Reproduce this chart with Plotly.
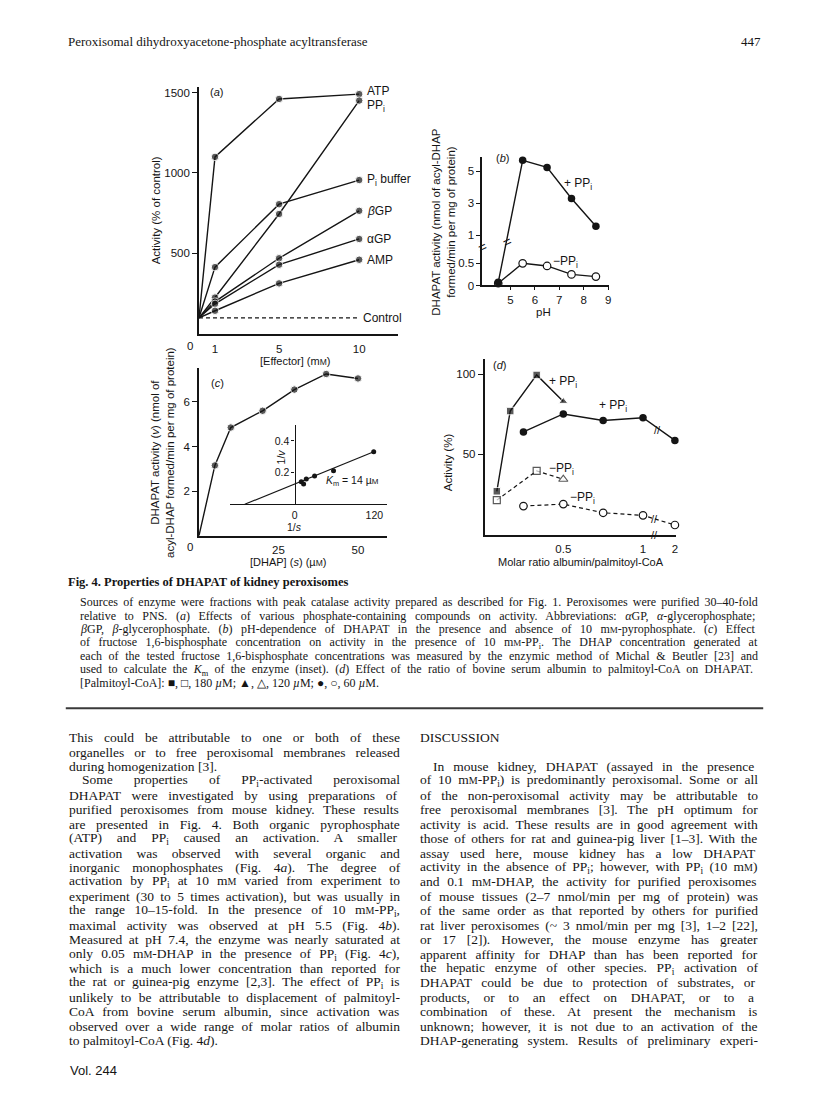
import re
import html
import plotly.graph_objects as go

# ---------------------------------------------------
# values

# (a) activity (% of control) against effector concentration (mM)
effector_mm = [0, 1, 5, 10]
act_atp = [100, 1100, 1460, 1490]
act_ppi = [100, 226, 745, 1450]
act_pi_buffer = [100, 415, 806, 956]
act_beta_gp = [100, 201, 470, 765]
act_alpha_gp = [100, 187, 430, 590]
act_amp = [100, 144, 314, 461]
control_mm = [0, 10]
control_pct = [100, 100]

# (b) pH dependence (nmol/min per mg)
ph = [4.5, 5.5, 6.5, 7.5, 8.5]
ph_plus_ppi = [0.07, 5.7, 5.25, 3.3, 1.55]
ph_minus_ppi = [0.05, 0.5, 0.44, 0.25, 0.2]

# (c) DHAP concentration (uM) and activity
dhap_um = [0, 5, 10, 20, 30, 40, 50]
dhap_v = [0, 3.15, 4.85, 5.6, 6.55, 7.25, 7.05]

# (c) inset, 1/v against 1/s
inv_s = [10, 13.5, 17.5, 30, 58.5, 119]
inv_v = [0.142, 0.128, 0.159, 0.179, 0.211, 0.332]
fit_inv_s = [-75, 120]
fit_inv_v = [0.0, 0.333]

# (d) molar ratio albumin/palmitoyl-CoA
ratio_180 = [0.083, 0.167, 0.333]
plus_180 = [27, 77, 99.5]
ratio_180_minus = [0.083, 0.333]
minus_180 = [21.5, 39.7]
ratio_120 = [0.5]
plus_120 = [83]
minus_120 = [34.5]
ratio_60 = [0.25, 0.5, 0.75, 1, 2]
plus_60 = [64, 75.2, 71.1, 72.8, 58.7]
minus_60 = [17.8, 19.0, 13.6, 12.0, 6.0]

# ---------------------------------------------------

INK = "#151515"
SANS = "Liberation Sans, Arial, sans-serif"
SERIF = "Liberation Serif, Times New Roman, serif"
W, H = 816, 1101


def px(x):
    return x / W


def py(y):
    return 1 - y / H


def small_caps(s, size):
    # mM / uM are printed with a small-capital M
    return re.sub(r"(m|µ)M", r'\1<span style="font-size:%spx">M</span>' % size, s)


def ph_axis(v):
    # broken y axis of panel (b): 0-0.5 stretched, 1-5 compressed
    return v * 44.6 if v < 0.8 else 50.7 + (v - 1) * 16.0


def ratio_axis(r):
    # broken x axis of panel (d): 1 -> 2 squeezed
    return r if r <= 1 else 1 + 0.2 * (r - 1)


# Times advance widths (1/1000 em), used to justify the text lines
TIMES = dict(zip("ABCDEFGHIJKLMNOPQRSTUVWXYZ",
                 [722, 667, 667, 722, 611, 556, 722, 722, 333, 389, 722, 611, 889,
                  722, 722, 556, 722, 667, 556, 611, 722, 722, 944, 722, 722, 611]))
TIMES.update(zip("abcdefghijklmnopqrstuvwxyz",
                 [444, 500, 444, 500, 444, 333, 500, 500, 278, 278, 500, 278, 778,
                  500, 500, 500, 500, 333, 389, 278, 500, 500, 722, 500, 500, 444]))
TIMES.update({c: 500 for c in "0123456789"})
TIMES.update({" ": 250, "(": 333, ")": 333, "[": 333, "]": 333, ",": 250, ".": 250,
              ";": 278, ":": 278, "-": 333, "–": 500, "/": 278, "&": 778, "~": 541,
              "%": 833, "α": 540, "β": 500, "µ": 500, "'": 333})


def natural_width(s, size, sc_size):
    total, scale = 0.0, 1.0
    for tok in re.split(r"(<[^>]+>)", s):
        if tok.startswith("<"):
            scale = 0.7 if tok == "<sub>" else (1.0 if tok == "</sub>" else scale)
            continue
        for ch in html.unescape(tok):
            total += TIMES.get(ch, 500) * scale
    total -= len(re.findall(r"[mµ]M", s)) * 889 * (1 - sc_size / size)
    return total * size / 1000


def justified(s, size, sc_size, width):
    plain = html.unescape(re.sub(r"<[^>]+>", "", s))
    gaps = plain.count(" ")
    extra = (width - natural_width(s, size, sc_size)) / max(gaps, 1)
    extra = max(extra, -1.0)
    return '<span style="word-spacing:%.2fpx">%s</span>' % (extra, small_caps(s, sc_size))


fig = go.Figure()

line_style = dict(color=INK, width=1.4)
dot = dict(color=INK, size=7.5)

# (a) -----
for ys in [act_atp, act_ppi, act_pi_buffer, act_beta_gp, act_alpha_gp, act_amp]:
    fig.add_trace(go.Scatter(
        x=effector_mm, y=ys, mode="lines+markers", line=line_style,
        marker=dict(color=INK, size=[0, 7.5, 7.5, 7.5]), xaxis="x", yaxis="y",
        cliponaxis=False))
fig.add_trace(go.Scatter(
    x=control_mm, y=control_pct, mode="lines",
    line=dict(color=INK, width=1.2, dash="4px,3px"), xaxis="x", yaxis="y"))

# (b) -----
fig.add_trace(go.Scatter(
    x=ph, y=[ph_axis(v) for v in ph_minus_ppi], mode="lines+markers", line=line_style,
    marker=dict(color="white", size=7.5, line=dict(color=INK, width=1.2)),
    xaxis="x2", yaxis="y2", cliponaxis=False))
fig.add_trace(go.Scatter(
    x=ph, y=[ph_axis(v) for v in ph_plus_ppi], mode="lines+markers", line=line_style,
    marker=dot, xaxis="x2", yaxis="y2", cliponaxis=False))

# (c) -----
fig.add_trace(go.Scatter(
    x=dhap_um, y=dhap_v, mode="lines+markers", line=line_style,
    marker=dict(color=INK, size=[0, 7.5, 7.5, 7.5, 7.5, 7.5, 7.5]), xaxis="x3", yaxis="y3",
    cliponaxis=False))
fig.add_trace(go.Scatter(
    x=fit_inv_s, y=fit_inv_v, mode="lines", line=dict(color=INK, width=1.2),
    xaxis="x4", yaxis="y4", cliponaxis=False))
fig.add_trace(go.Scatter(
    x=inv_s, y=inv_v, mode="markers", marker=dict(color=INK, size=5),
    xaxis="x4", yaxis="y4", cliponaxis=False))

# (d) -----
fig.add_trace(go.Scatter(
    x=[ratio_axis(r) for r in ratio_180_minus + ratio_120], y=minus_180 + minus_120,
    mode="lines+markers", line=dict(color=INK, width=1.2, dash="4px,3px"),
    marker=dict(color="white", size=[7, 7, 8], symbol=["square", "square", "triangle-up"],
                line=dict(color=INK, width=1.2)),
    xaxis="x5", yaxis="y5", cliponaxis=False))
fig.add_trace(go.Scatter(
    x=[ratio_axis(r) for r in ratio_60], y=minus_60,
    mode="lines+markers", line=dict(color=INK, width=1.2, dash="4px,3px"),
    marker=dict(color="white", size=7.5, line=dict(color=INK, width=1.2)),
    xaxis="x5", yaxis="y5", cliponaxis=False))
fig.add_trace(go.Scatter(
    x=[ratio_axis(r) for r in ratio_180 + ratio_120], y=plus_180 + plus_120,
    mode="lines+markers", line=line_style,
    marker=dict(color=INK, size=[7.5, 7.5, 7.5, 8], symbol=["square"] * 3 + ["triangle-up"]),
    xaxis="x5", yaxis="y5", cliponaxis=False))
fig.add_trace(go.Scatter(
    x=[ratio_axis(r) for r in ratio_60], y=plus_60, mode="lines+markers",
    line=line_style, marker=dot, xaxis="x5", yaxis="y5", cliponaxis=False))

# ---------------------------------------------------
# axes

ax = dict(showline=True, linecolor=INK, linewidth=1.6, ticks="outside", ticklen=5,
          tickwidth=1.2, tickcolor=INK, showgrid=False, zeroline=False,
          tickfont=dict(family=SANS, size=11.5, color=INK))
bare_x = dict(ticks="", ticklabelstandoff=3)

fig.update_layout(
    xaxis=dict(ax, **bare_x, domain=[px(191.7), px(391.7)], range=[0, 12.44],
               tickvals=[1, 5, 10], anchor="y"),
    yaxis=dict(ax, domain=[py(327.7), py(79.3)], range=[0, 1535],
               tickvals=[500, 1000, 1500], anchor="x"),
    xaxis2=dict(ax, domain=[px(476), px(603.3)], range=[3.845, 9.04], ticklen=3,
                tickvals=[5, 6, 7, 8, 9], anchor="y2"),
    yaxis2=dict(ax, domain=[py(279), py(150)], range=[0, 129], ticklen=4,
                tickvals=[ph_axis(t) for t in [0, 0.5, 1, 3, 5]],
                ticktext=["0", "0.5", "1", "3", "5"], anchor="x2"),
    xaxis3=dict(ax, **bare_x, domain=[px(191.7), px(380)], range=[0, 59],
                tickvals=[25, 50], anchor="y3"),
    yaxis3=dict(ax, domain=[py(530.6), py(361.7)], range=[0, 7.53],
                tickvals=[2, 4, 6], anchor="x3"),
    xaxis4=dict(ax, ticks="", ticklabelstandoff=1, domain=[px(223), px(380)],
                range=[-97, 138.4], tickvals=[0, 120], linewidth=1.3, anchor="y4",
                tickfont=dict(family=SANS, size=10.5, color=INK)),
    yaxis4=dict(ax, domain=[py(499), py(419.3)], range=[0, 0.5], tickvals=[0.2, 0.4],
                ticklen=3, linewidth=1.3, anchor="free", position=px(287.7),
                tickfont=dict(family=SANS, size=10.5, color=INK)),
    xaxis5=dict(ax, **bare_x, domain=[px(478.3), px(670)], range=[0.006, 1.204],
                tickvals=[0.5, 1, 1.2], ticktext=["0.5", "1", "2"], anchor="y5"),
    yaxis5=dict(ax, domain=[py(529.5), py(353.3)], range=[0, 109.2],
                tickvals=[50, 100], anchor="x5"),
)

# ---------------------------------------------------
# annotations inside the figure

notes = []


def fig_text(x, y, text, xref, yref, size=11.5, **kw):
    d = dict(x=x, y=y, xref=xref, yref=yref, text=text, showarrow=False,
             font=dict(family=SANS, size=size, color=INK))
    d.update(kw)
    notes.append(d)


def page_text(x, y, text, size, family=SERIF, anchor="left", **kw):
    d = dict(x=px(x), y=py(y), xref="paper", yref="paper", text=text, showarrow=False,
             xanchor=anchor, yanchor="middle", font=dict(family=family, size=size, color=INK))
    d.update(kw)
    notes.append(d)


# (a) series labels
fig_text(10, act_atp[-1], "ATP", "x", "y", 12, xanchor="left", xshift=6, yshift=3)
fig_text(10, act_ppi[-1], "PP<sub>i</sub>", "x", "y", 12, xanchor="left", xshift=6, yshift=-5)
fig_text(10, act_pi_buffer[-1], "P<sub>i</sub> buffer", "x", "y", 12, xanchor="left", xshift=6)
fig_text(10, act_beta_gp[-1], "<i>β</i>GP", "x", "y", 12, xanchor="left", xshift=6)
fig_text(10, act_alpha_gp[-1], "αGP", "x", "y", 12, xanchor="left", xshift=6)
fig_text(10, act_amp[-1], "AMP", "x", "y", 12, xanchor="left", xshift=6)
fig_text(10, control_pct[-1], "Control", "x", "y", 12, xanchor="left", xshift=2)
fig_text(1.1, 1500, "(<i>a</i>)", "x", "y", 11)
fig_text(0, py(340), "0", "x", "paper", xshift=-9, yanchor="middle")
page_text(148, 203, "Activity (% of control)", 11.5, SANS, "center", textangle=-90)
page_text(287.7, 354.5, small_caps("[Effector] (mM)", 8.5), 11, SANS, "center")

# (b)
fig_text(4.66, 128, "(<i>b</i>)", "x2", "y2", 11)
fig_text(7.75, 102, "+ PP<sub>i</sub>", "x2", "y2", 12)
fig_text(7.27, 24, "−PP<sub>i</sub>", "x2", "y2", 12)
fig_text(px(476), 39, "=", "paper", "y2", 14, textangle=-25)
fig_text(4.85, 44, "=", "x2", "y2", 14, textangle=-25)
page_text(437.5, 215, "DHAPAT activity (nmol of acyl-DHAP<br>formed/min per mg of protein)",
          11.5, SANS, "center", textangle=-90)
page_text(537, 306, "pH", 11.5, SANS, "center")

# (c)
fig_text(5.7, 6.86, "(<i>c</i>)", "x3", "y3", 11)
fig_text(0, py(542), "0", "x3", "paper", xshift=-9, yanchor="middle")
fig_text(px(265.7), 0.3, "1/<i>v</i>", "paper", "y4", 10.5, textangle=-90)
fig_text(0, py(522), "1/<i>s</i>", "x4", "paper", 10.5, yanchor="middle")
fig_text(px(346), 0.148, small_caps("<i>K</i><sub>m</sub> = 14 µM", 8), "paper", "y4", 10.5)
page_text(155, 447, "DHAPAT activity (<i>v</i>) (nmol of<br>acyl-DHAP formed/min per mg of protein)",
          11.5, SANS, "center", textangle=-90)
page_text(281, 557, small_caps("[DHAP] (<i>s</i>) (µM)", 8.5), 11, SANS, "center")

# (d)
fig_text(0.1, 105.6, "(<i>d</i>)", "x5", "y5", 11)
fig_text(0.497, 95, "+ PP<sub>i</sub>", "x5", "y5", 12)
fig_text(0.81, 80, "+ PP<sub>i</sub>", "x5", "y5", 12)
fig_text(0.49, 41, "−PP<sub>i</sub>", "x5", "y5", 12)
fig_text(0.62, 22.6, "−PP<sub>i</sub>", "x5", "y5", 12)
fig_text(0, py(542), "0", "x5", "paper", xshift=-10, yanchor="middle")
fig_text(ratio_axis(1.45), 65.5, "//", "x5", "y5", 11)
fig_text(ratio_axis(1.36), 9.6, "//", "x5", "y5", 11)
fig_text(ratio_axis(1.35), py(530), "//", "x5", "paper", 11, yanchor="middle")
page_text(441.7, 456.7, "Activity (%)", 11.5, SANS, "center", textangle=-90)
page_text(574.7, 557, "Molar ratio albumin/palmitoyl-CoA", 11, SANS, "center")

# ---------------------------------------------------
# page text

page_text(58, 34, "Peroxisomal dihydroxyacetone-phosphate acyltransferase", 13)
page_text(758, 34, "447", 13, anchor="right")

page_text(58, 577, "<b>Fig. 4. Properties of DHAPAT of kidney peroxisomes</b>", 12.5)

caption = [
    "Sources of enzyme were fractions with peak catalase activity prepared as described for Fig. 1. Peroxisomes were purified 30–40-fold",
    "relative to PNS. (<i>a</i>) Effects of various phosphate-containing compounds on activity. Abbreviations: <i>α</i>GP, <i>α</i>-glycerophosphate;",
    "<i>β</i>GP, <i>β</i>-glycerophosphate. (<i>b</i>) pH-dependence of DHAPAT in the presence and absence of 10 mM-pyrophosphate. (<i>c</i>) Effect",
    "of fructose 1,6-bisphosphate concentration on activity in the presence of 10 mM-PP<sub>i</sub>. The DHAP concentration generated at",
    "each of the tested fructose 1,6-bisphosphate concentrations was measured by the enzymic method of Michal &amp; Beutler [23] and",
    "used to calculate the <i>K</i><sub>m</sub> of the enzyme (inset). (<i>d</i>) Effect of the ratio of bovine serum albumin to palmitoyl-CoA on DHAPAT.",
    "[Palmitoyl-CoA]: ■, □, 180 <i>µ</i>M; ▲, △, 120 <i>µ</i>M; ●, ○, 60 <i>µ</i>M.",
]
CAP_SIZE, CAP_SC = 12, 9
for i, s in enumerate(caption):
    text = justified(s, CAP_SIZE, CAP_SC, 678) if i < len(caption) - 1 else small_caps(s, CAP_SC)
    page_text(70, 597.5 + i * 13.6, text, CAP_SIZE)

left_col = [
    "This could be attributable to one or both of these",
    "organelles or to free peroxisomal membranes released",
    "during homogenization [3].",
    "Some properties of PP<sub>i</sub>-activated peroxisomal",
    "DHAPAT were investigated by using preparations of",
    "purified peroxisomes from mouse kidney. These results",
    "are presented in Fig. 4. Both organic pyrophosphate",
    "(ATP) and PP<sub>i</sub> caused an activation. A smaller",
    "activation was observed with several organic and",
    "inorganic monophosphates (Fig. 4<i>a</i>). The degree of",
    "activation by PP<sub>i</sub> at 10 mM varied from experiment to",
    "experiment (30 to 5 times activation), but was usually in",
    "the range 10–15-fold. In the presence of 10 mM-PP<sub>i</sub>,",
    "maximal activity was observed at pH 5.5 (Fig. 4<i>b</i>).",
    "Measured at pH 7.4, the enzyme was nearly saturated at",
    "only 0.05 mM-DHAP in the presence of PP<sub>i</sub> (Fig. 4<i>c</i>),",
    "which is a much lower concentration than reported for",
    "the rat or guinea-pig enzyme [2,3]. The effect of PP<sub>i</sub> is",
    "unlikely to be attributable to displacement of palmitoyl-",
    "CoA from bovine serum albumin, since activation was",
    "observed over a wide range of molar ratios of albumin",
    "to palmitoyl-CoA (Fig. 4<i>d</i>).",
]
left_ragged = {2, 21}
left_indent = {3}

right_col = [
    "In mouse kidney, DHAPAT (assayed in the presence",
    "of 10 mM-PP<sub>i</sub>) is predominantly peroxisomal. Some or all",
    "of the non-peroxisomal activity may be attributable to",
    "free peroxisomal membranes [3]. The pH optimum for",
    "activity is acid. These results are in good agreement with",
    "those of others for rat and guinea-pig liver [1–3]. With the",
    "assay used here, mouse kidney has a low DHAPAT",
    "activity in the absence of PP<sub>i</sub>; however, with PP<sub>i</sub> (10 mM)",
    "and 0.1 mM-DHAP, the activity for purified peroxisomes",
    "of mouse tissues (2–7 nmol/min per mg of protein) was",
    "of the same order as that reported by others for purified",
    "rat liver peroxisomes (~ 3 nmol/min per mg [3], 1–2 [22],",
    "or 17 [2]). However, the mouse enzyme has greater",
    "apparent affinity for DHAP than has been reported for",
    "the hepatic enzyme of other species. PP<sub>i</sub> activation of",
    "DHAPAT could be due to protection of substrates, or",
    "products, or to an effect on DHAPAT, or to a",
    "combination of these. At present the mechanism is",
    "unknown; however, it is not due to an activation of the",
    "DHAP-generating system. Results of preliminary experi-",
]
right_indent = {0}

BODY, BODY_SC, LEAD = 13.5, 10, 14.5
LEFT_X, LEFT_W = 59, 331
RIGHT_X, RIGHT_W = 412, 338
INDENT = 13

for i, s in enumerate(left_col):
    dx = INDENT if i in left_indent else 0
    text = small_caps(s, BODY_SC) if i in left_ragged else justified(s, BODY, BODY_SC, LEFT_W - dx)
    page_text(LEFT_X + dx, 733.7 + i * LEAD, text, BODY)

page_text(RIGHT_X, 733.7, "DISCUSSION", BODY)
for i, s in enumerate(right_col):
    dx = INDENT if i in right_indent else 0
    page_text(RIGHT_X + dx, 762.7 + i * LEAD, justified(s, BODY, BODY_SC, RIGHT_W - dx), BODY)

page_text(60, 1068, "Vol. 244", 13, SANS)

fig.update_layout(
    annotations=notes,
    shapes=[dict(type="line", xref="paper", yref="paper", x0=px(58), x1=px(758),
                 y0=py(704), y1=py(704), line=dict(color="#3a3a3a", width=2))],
    width=W, height=H, autosize=False,
    margin=dict(l=0, r=0, t=0, b=0),
    paper_bgcolor="white", plot_bgcolor="rgba(0,0,0,0)",
    showlegend=False,
)

fig.write_html("out.html")
